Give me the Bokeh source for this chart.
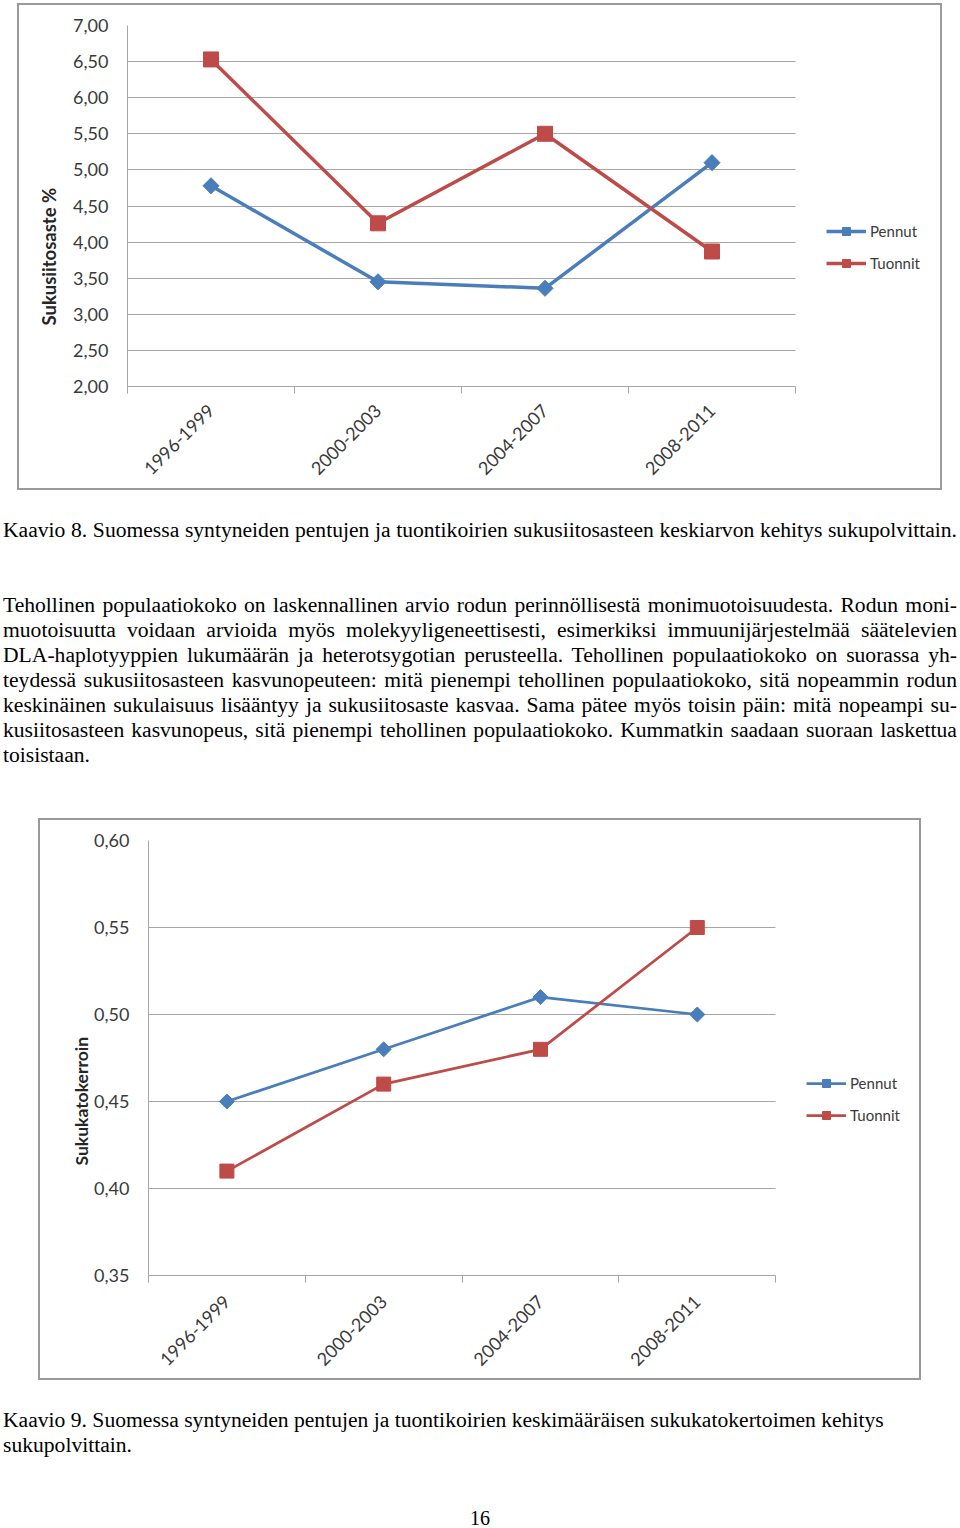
import math
from bokeh.plotting import figure
from bokeh.models import (FixedTicker, CustomJSTickFormatter, Legend, LegendItem, Title, Div,
                          Range1d, BoxAnnotation)
from bokeh.layouts import column
from bokeh.embed import file_html
from bokeh.resources import INLINE

# ---------------- data ----------------
categories = ["1996-1999", "2000-2003", "2004-2007", "2008-2011"]
series_names = ["Pennut", "Tuonnit"]

# Kaavio 8: sukusiitosaste %
pennut_inbreeding = [4.78, 3.45, 3.36, 5.10]
tuonnit_inbreeding = [6.53, 4.26, 5.50, 3.87]
inbreeding_ticks = [2.0, 2.5, 3.0, 3.5, 4.0, 4.5, 5.0, 5.5, 6.0, 6.5, 7.0]

# Kaavio 9: sukukatokerroin
pennut_ancestor = [0.45, 0.48, 0.51, 0.50]
tuonnit_ancestor = [0.41, 0.46, 0.48, 0.55]
ancestor_ticks = [0.35, 0.40, 0.45, 0.50, 0.55, 0.60]

caption8 = "Kaavio 8. Suomessa syntyneiden pentujen ja tuontikoirien sukusiitosasteen keskiarvon kehitys sukupolvittain."
paragraph_lines = [
    "Tehollinen populaatiokoko on laskennallinen arvio rodun perinnöllisestä monimuotoisuudesta. Rodun moni-",
    "muotoisuutta voidaan arvioida myös molekyyligeneettisesti, esimerkiksi immuunijärjestelmää säätelevien",
    "DLA-haplotyyppien lukumäärän ja heterotsygotian perusteella. Tehollinen populaatiokoko on suorassa yh-",
    "teydessä sukusiitosasteen kasvunopeuteen: mitä pienempi tehollinen populaatiokoko, sitä nopeammin rodun",
    "keskinäinen sukulaisuus lisääntyy ja sukusiitosaste kasvaa. Sama pätee myös toisin päin: mitä nopeampi su-",
    "kusiitosasteen kasvunopeus, sitä pienempi tehollinen populaatiokoko. Kummatkin saadaan suoraan laskettua",
    "toisistaan.",
]
caption9_lines = [
    "Kaavio 9. Suomessa syntyneiden pentujen ja tuontikoirien keskimääräisen sukukatokertoimen kehitys",
    "sukupolvittain.",
]
page_number = "16"

BLUE = "#4a7ebb"
RED = "#be4b48"
GRID = "#a6a6a6"
TXT = "#3a3a3a"
FONT = "Lato"


def make_chart(pen, tuo, ticks, ytitle, w, h, left, top, frame_h, plot_w,
               lw, msize, title_size, title_offset, title_standoff,
               legend_xy, label_standoff, margin):
    n = len(categories)
    xs = [i + 0.5 for i in range(n)]
    right = 6
    bottom = h - top - frame_h
    frame_w = w - left - right
    # the frame also holds the legend area to the right of the category area
    x_end = n * frame_w / plot_w
    p = figure(width=w, height=h,
               output_backend="svg", toolbar_location=None, tools="",
               x_range=Range1d(0, x_end),
               y_range=Range1d(ticks[0], ticks[-1]),
               min_border_left=left, min_border_right=right,
               min_border_top=top, min_border_bottom=bottom,
               margin=margin)
    p.styles = {"border": "2px solid #9a9a9a"}
    p.outline_line_color = None
    p.background_fill_color = "white"
    p.border_fill_color = "white"
    p.border_fill_alpha = 0

    # y axis
    yt = FixedTicker(ticks=ticks, minor_ticks=[])
    p.yaxis.ticker = yt
    p.yaxis.formatter = CustomJSTickFormatter(code="return tick.toFixed(2).replace('.', ',');")
    p.yaxis.major_tick_out = 0
    p.yaxis.major_tick_in = 0
    p.yaxis.minor_tick_out = 0
    p.yaxis.minor_tick_in = 0
    p.yaxis.axis_line_color = GRID
    p.yaxis.major_label_standoff = 19
    p.yaxis.major_label_text_font = FONT
    p.yaxis.major_label_text_font_size = "18px"
    p.yaxis.major_label_text_color = TXT
    p.ygrid.ticker = yt
    p.ygrid.grid_line_color = GRID
    p.ygrid.grid_line_width = 1
    p.xgrid.visible = False
    grid = p.ygrid[0]
    if "cross_bounds" in grid.properties():
        grid.cross_bounds = (0, n)
    else:
        p.add_layout(BoxAnnotation(left=n, fill_color="white", fill_alpha=1,
                                   line_color=None, level="underlay"))

    # x axis: labels at category centres, ticks at boundaries
    xt = FixedTicker(ticks=xs, minor_ticks=list(range(n + 1)))
    p.xaxis.ticker = xt
    p.xaxis.bounds = (0, n)
    p.xaxis.formatter = CustomJSTickFormatter(args=dict(cats=categories),
                                              code="return cats[Math.floor(tick)];")
    p.xaxis.major_tick_out = 0
    p.xaxis.major_tick_in = 0
    p.xaxis.major_tick_line_color = None
    p.xaxis.minor_tick_out = 7
    p.xaxis.minor_tick_in = 0
    p.xaxis.minor_tick_line_color = GRID
    p.xaxis.axis_line_color = GRID
    p.xaxis.major_label_orientation = math.pi / 4
    p.xaxis.major_label_standoff = label_standoff
    p.xaxis.major_label_text_font = FONT
    p.xaxis.major_label_text_font_size = "18px"
    p.xaxis.major_label_text_color = TXT

    l1 = p.line(xs, pen, line_color=BLUE, line_width=lw)
    s1 = p.scatter(xs, pen, marker="square", angle=math.pi / 4, size=msize * 0.76,
                   fill_color=BLUE, line_color=BLUE)
    l2 = p.line(xs, tuo, line_color=RED, line_width=lw)
    s2 = p.scatter(xs, tuo, marker="square", size=msize,
                   fill_color=RED, line_color=RED)

    legend = Legend(items=[LegendItem(label=series_names[0], renderers=[l1, s1]),
                           LegendItem(label=series_names[1], renderers=[l2, s2])],
                    location=legend_xy, orientation="vertical",
                    glyph_width=40, glyph_height=20, label_height=20,
                    spacing=12, padding=0, margin=0, label_standoff=4,
                    border_line_color=None, background_fill_alpha=0,
                    label_text_font=FONT, label_text_font_size="15px",
                    label_text_color=TXT)
    p.add_layout(legend, "center")

    t = Title(text=ytitle, align="left", offset=title_offset, standoff=title_standoff,
              text_font=FONT, text_font_style="bold",
              text_font_size=title_size, text_color="#262626")
    p.add_layout(t, "left")
    return p


p1 = make_chart(pennut_inbreeding, tuonnit_inbreeding, inbreeding_ticks,
                "Sukusiitosaste %", 925, 487, 108, 20, 361, 668,
                3.5, 15, "18.5px", 61, 22, (699, 113), 14, (3, 0, 0, 17))

p2 = make_chart(pennut_ancestor, tuonnit_ancestor, ancestor_ticks,
                "Sukukatokerroin", 883, 562, 107, 20, 435, 628,
                2.75, 14, "17.5px", 110, 0, (658, 150), 16, (0, 0, 0, 38))

SERIF = "'Liberation Serif', 'Times New Roman', serif"
SX = 1.08


def line_div(text, top, justify=True, left=3, width=954, lh=25):
    ta = "text-align:justify;text-align-last:justify;" if justify else "text-align:left;"
    return (f'<div style="position:absolute;left:{left}px;top:{top}px;width:{width / SX:.1f}px;'
            f'line-height:{lh}px;white-space:normal;transform:scaleX({SX});transform-origin:0 0;{ta}">'
            f'{text}</div>')


mid_html = [line_div(caption8, 28)]
for i, ln in enumerate(paragraph_lines):
    mid_html.append(line_div(ln, 103 + 25 * i, justify=(i < len(paragraph_lines) - 1)))
mid = Div(text=(f'<div style="position:relative;width:960px;height:328px;font-family:{SERIF};'
                f'font-size:20px;color:#000;">' + "".join(mid_html) + "</div>"),
          width=960, height=328, margin=(0, 0, 0, 0))

bot_html = [line_div(caption9_lines[0], 28, justify=False),
            line_div(caption9_lines[1], 53, justify=False),
            f'<div style="position:absolute;left:0;top:128px;width:960px;text-align:center;'
            f'line-height:20px;">{page_number}</div>']
bot = Div(text=(f'<div style="position:relative;width:960px;height:146px;font-family:{SERIF};'
                f'font-size:20px;color:#000;">' + "".join(bot_html) + "</div>"),
          width=960, height=146, margin=(0, 0, 0, 0))

layout = column(p1, mid, p2, bot, spacing=0)

open("out.html", "w").write(file_html(layout, INLINE))
